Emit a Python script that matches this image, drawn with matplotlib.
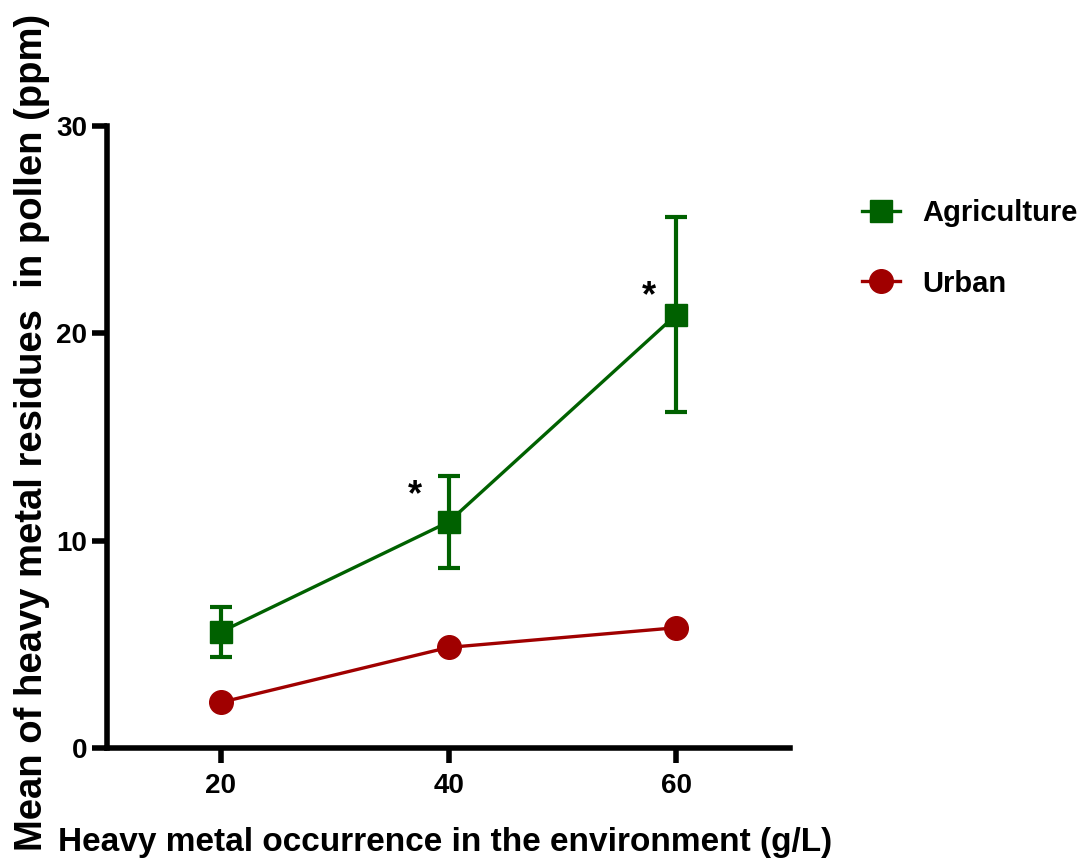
import matplotlib
matplotlib.use("Agg")
import matplotlib.pyplot as plt
from matplotlib.lines import Line2D

# Data
x_vals = [20, 40, 60]
agri_mean = [5.6, 10.9, 20.9]
agri_err = [1.2, 2.2, 4.7]
urban_mean = [2.2, 4.85, 5.8]
x_ticks = [20, 40, 60]
y_ticks = [0, 10, 20, 30]
star_labels = ["", "*", "*"]
star_offsets = [(0, 0), (-24, 19), (-20, 13)]  # text offsets in points

plt.rcParams['font.family'] = ["Liberation Sans", "DejaVu Sans"]
plt.rcParams['font.weight'] = 'bold'

green = "#006100"
red = "#A00000"

fig = plt.figure(figsize=(10.78, 8.67), dpi=100)
ax = fig.add_axes([0.0993, 0.1373, 0.6337, 0.7174])

ax.errorbar(x_vals, agri_mean, yerr=agri_err, color=green, lw=2.4, marker='s',
            markersize=16, capsize=8, capthick=3, elinewidth=3)
ax.plot(x_vals, urban_mean, color=red, lw=2.4, marker='o', markersize=17)

for x, m, s, off in zip(x_vals, agri_mean, star_labels, star_offsets):
    if s:
        ax.annotate(s, (x, m), xytext=off, textcoords='offset points',
                    ha='center', va='center', fontsize=26, fontweight='bold', color='black')

ax.set_xlim(10, 70)
ax.set_ylim(0, 30)
ax.set_xticks(x_ticks)
ax.set_yticks(y_ticks)
for s in ['top', 'right']:
    ax.spines[s].set_visible(False)
for s in ['left', 'bottom']:
    ax.spines[s].set_linewidth(4)
ax.tick_params(width=4, length=11, labelsize=20)
ax.tick_params(axis='y', pad=3.5)
ax.tick_params(axis='x', pad=7)
for lbl in ax.get_xticklabels() + ax.get_yticklabels():
    lbl.set_fontweight('bold')

ax.set_xlabel("Heavy metal occurrence in the environment (g/L)", fontsize=24, fontweight='bold')
ax.xaxis.set_label_coords(0.495, -0.127)
ax.set_ylabel("Mean of heavy metal residues  in pollen (ppm)", fontsize=27.5, fontweight='bold')
ax.yaxis.set_label_coords(-0.083, 0.508)

handles = [Line2D([], [], color=green, lw=2.4, marker='s', markersize=16),
           Line2D([], [], color=red, lw=2.4, marker='o', markersize=17)]
leg = fig.legend(handles, ["Agriculture", "Urban"], loc='upper left',
                 bbox_to_anchor=(0.800, 0.770), frameon=False, borderpad=0,
                 borderaxespad=0, fontsize=21, handlelength=1.3, labelspacing=1.45,
                 handletextpad=0.75)
for t in leg.get_texts():
    t.set_fontweight('bold')

fig.savefig("out.png", dpi=100)
